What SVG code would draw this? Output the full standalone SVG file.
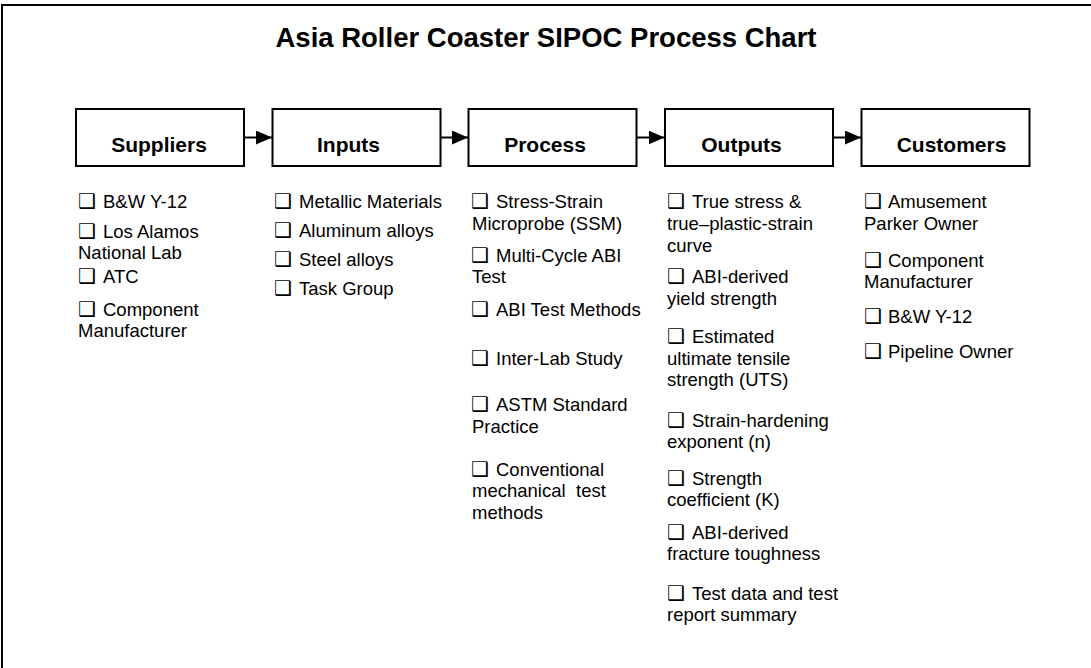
<svg xmlns="http://www.w3.org/2000/svg" width="1091" height="668" viewBox="0 0 1091 668">
<style>
.frame{fill:#fff;stroke:#000;stroke-width:2}
.box{fill:#fff;stroke:#000;stroke-width:2}
.title{font-family:"Liberation Sans",Arial,sans-serif;font-weight:bold;font-size:27.5px;fill:#000;text-anchor:middle}
.hd{font-family:"Liberation Sans",Arial,sans-serif;font-weight:bold;font-size:21px;fill:#000;text-anchor:middle}
.it{font-family:"Liberation Sans",Arial,sans-serif;font-size:18.5px;fill:#000}
.cb{font-family:"DejaVu Sans",sans-serif;font-size:20px;font-weight:bold}
.conn{stroke:#000;stroke-width:2;fill:none}
</style>
<defs>
<marker id="ah" markerWidth="16" markerHeight="14" refX="16" refY="7" orient="auto" markerUnits="userSpaceOnUse">
<path d="M0,0 L16,7 L0,14 Z" fill="#000"/>
</marker>
</defs>
<rect class="frame" x="2" y="5" width="1100" height="680"/>
<text class="title" x="546" y="47">Asia Roller Coaster SIPOC Process Chart</text>

<g id="connectors">
<line class="conn" x1="244" y1="137.5" x2="272" y2="137.5" marker-end="url(#ah)"/>
<line class="conn" x1="440.5" y1="137.5" x2="468" y2="137.5" marker-end="url(#ah)"/>
<line class="conn" x1="636.5" y1="137.5" x2="664.5" y2="137.5" marker-end="url(#ah)"/>
<line class="conn" x1="833" y1="137.5" x2="861" y2="137.5" marker-end="url(#ah)"/>
</g>

<g id="suppliers">
<rect class="box" x="76" y="109" width="168" height="57"/>
<text class="hd" x="159" y="152">Suppliers</text>
<text class="it"><tspan class="cb" x="78" y="208">❑</tspan><tspan x="103" y="208">B&amp;W Y-12</tspan></text>
<text class="it"><tspan class="cb" x="78" y="238">❑</tspan><tspan x="103" y="238">Los Alamos</tspan><tspan x="78" y="259">National Lab</tspan></text>
<text class="it"><tspan class="cb" x="78" y="282.5">❑</tspan><tspan x="103" y="282.5">ATC</tspan></text>
<text class="it"><tspan class="cb" x="78" y="316">❑</tspan><tspan x="103" y="316">Component</tspan><tspan x="78" y="337">Manufacturer</tspan></text>
</g>

<g id="inputs">
<rect class="box" x="272.5" y="109" width="168" height="57"/>
<text class="hd" x="348.5" y="152">Inputs</text>
<text class="it"><tspan class="cb" x="274" y="208">❑</tspan><tspan x="299" y="208">Metallic Materials</tspan></text>
<text class="it"><tspan class="cb" x="274" y="237">❑</tspan><tspan x="299" y="237">Aluminum alloys</tspan></text>
<text class="it"><tspan class="cb" x="274" y="266">❑</tspan><tspan x="299" y="266">Steel alloys</tspan></text>
<text class="it"><tspan class="cb" x="274" y="295">❑</tspan><tspan x="299" y="295">Task Group</tspan></text>
</g>

<g id="process">
<rect class="box" x="468.5" y="109" width="168" height="57"/>
<text class="hd" x="545" y="152">Process</text>
<text class="it"><tspan class="cb" x="471" y="208">❑</tspan><tspan x="496" y="208">Stress-Strain</tspan><tspan x="472" y="230">Microprobe (SSM)</tspan></text>
<text class="it"><tspan class="cb" x="471" y="261.5">❑</tspan><tspan x="496" y="261.5">Multi-Cycle ABI</tspan><tspan x="472" y="283">Test</tspan></text>
<text class="it"><tspan class="cb" x="471" y="316">❑</tspan><tspan x="496" y="316">ABI Test Methods</tspan></text>
<text class="it"><tspan class="cb" x="471" y="365">❑</tspan><tspan x="496" y="365">Inter-Lab Study</tspan></text>
<text class="it"><tspan class="cb" x="471" y="411">❑</tspan><tspan x="496" y="411">ASTM Standard</tspan><tspan x="472" y="433">Practice</tspan></text>
<text class="it"><tspan class="cb" x="471" y="476">❑</tspan><tspan x="496" y="476">Conventional</tspan><tspan x="472" y="497">mechanical</tspan><tspan x="576" y="497">test</tspan><tspan x="472" y="518.5">methods</tspan></text>
</g>

<g id="outputs">
<rect class="box" x="665" y="109" width="168" height="57"/>
<text class="hd" x="741.5" y="152">Outputs</text>
<text class="it"><tspan class="cb" x="667" y="208">❑</tspan><tspan x="692" y="208">True stress &amp;</tspan><tspan x="667" y="230">true–plastic-strain</tspan><tspan x="667" y="251.5">curve</tspan></text>
<text class="it"><tspan class="cb" x="667" y="283">❑</tspan><tspan x="692" y="283">ABI-derived</tspan><tspan x="667" y="304.5">yield strength</tspan></text>
<text class="it"><tspan class="cb" x="667" y="343">❑</tspan><tspan x="692" y="343">Estimated</tspan><tspan x="667" y="364.5">ultimate tensile</tspan><tspan x="667" y="385.5">strength (UTS)</tspan></text>
<text class="it"><tspan class="cb" x="667" y="427">❑</tspan><tspan x="692" y="427">Strain-hardening</tspan><tspan x="667" y="448">exponent (n)</tspan></text>
<text class="it"><tspan class="cb" x="667" y="485">❑</tspan><tspan x="692" y="485">Strength</tspan><tspan x="667" y="506">coefficient (K)</tspan></text>
<text class="it"><tspan class="cb" x="667" y="538.5">❑</tspan><tspan x="692" y="538.5">ABI-derived</tspan><tspan x="667" y="560">fracture toughness</tspan></text>
<text class="it"><tspan class="cb" x="667" y="600">❑</tspan><tspan x="692" y="600">Test data and test</tspan><tspan x="667" y="621">report summary</tspan></text>
</g>

<g id="customers">
<rect class="box" x="861.5" y="109" width="168" height="57"/>
<text class="hd" x="951.5" y="152">Customers</text>
<text class="it"><tspan class="cb" x="864" y="208">❑</tspan><tspan x="888" y="208">Amusement</tspan><tspan x="864" y="229.5">Parker Owner</tspan></text>
<text class="it"><tspan class="cb" x="864" y="266.5">❑</tspan><tspan x="888" y="266.5">Component</tspan><tspan x="864" y="288">Manufacturer</tspan></text>
<text class="it"><tspan class="cb" x="864" y="323">❑</tspan><tspan x="888" y="323">B&amp;W Y-12</tspan></text>
<text class="it"><tspan class="cb" x="864" y="358">❑</tspan><tspan x="888" y="358">Pipeline Owner</tspan></text>
</g>
</svg>
